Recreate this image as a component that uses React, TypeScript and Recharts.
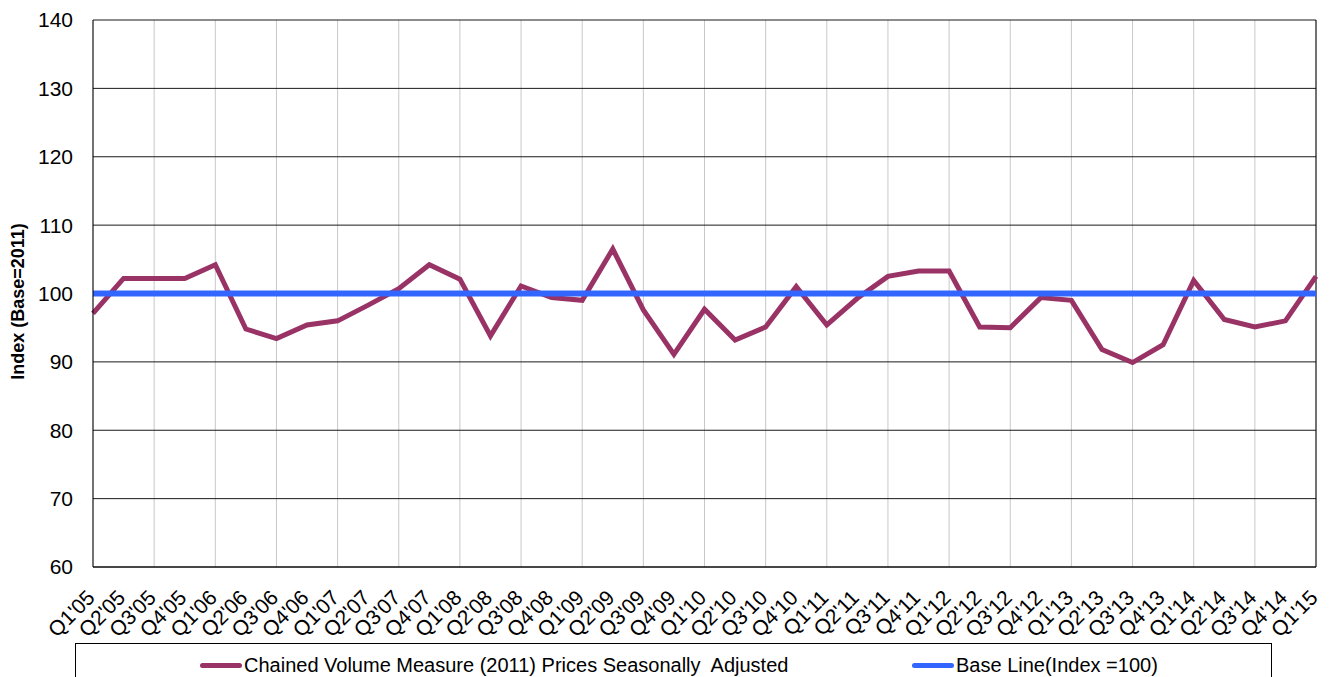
import React from "react";
import {
  LineChart,
  Line,
  XAxis,
  YAxis,
  CartesianGrid,
  Legend,
  ReferenceLine,
} from "recharts";

const quarters = [
  "Q1'05", "Q2'05", "Q3'05", "Q4'05",
  "Q1'06", "Q2'06", "Q3'06", "Q4'06",
  "Q1'07", "Q2'07", "Q3'07", "Q4'07",
  "Q1'08", "Q2'08", "Q3'08", "Q4'08",
  "Q1'09", "Q2'09", "Q3'09", "Q4'09",
  "Q1'10", "Q2'10", "Q3'10", "Q4'10",
  "Q1'11", "Q2'11", "Q3'11", "Q4'11",
  "Q1'12", "Q2'12", "Q3'12", "Q4'12",
  "Q1'13", "Q2'13", "Q3'13", "Q4'13",
  "Q1'14", "Q2'14", "Q3'14", "Q4'14",
  "Q1'15",
];

const chainedVolume = [
  97.1, 102.2, 102.2, 102.2,
  104.2, 94.8, 93.4, 95.4,
  96.0, 98.3, 100.7, 104.2,
  102.1, 93.8, 101.1, 99.4,
  99.0, 106.5, 97.6, 91.1,
  97.7, 93.2, 95.1, 101.0,
  95.4, 99.3, 102.5, 103.3,
  103.3, 95.1, 95.0, 99.4,
  99.0, 91.8, 89.9, 92.5,
  101.9, 96.2, 95.1, 96.0,
  102.5,
];

const baseLine = [
  100, 100, 100, 100, 100, 100, 100, 100, 100, 100,
  100, 100, 100, 100, 100, 100, 100, 100, 100, 100,
  100, 100, 100, 100, 100, 100, 100, 100, 100, 100,
  100, 100, 100, 100, 100, 100, 100, 100, 100, 100,
  100,
];

const yTicks = [60, 70, 80, 90, 100, 110, 120, 130, 140];

const data = quarters.map((q, i) => ({
  q,
  cvm: chainedVolume[i],
  base: baseLine[i],
}));

const FONT = "'Liberation Sans', Arial, sans-serif";

const QuarterTick = ({ x, y, payload }: any) => {
  const ax = x + 3;
  const ay = y + 32;
  return (
    <text
      x={ax}
      y={ay}
      transform={`rotate(-45, ${ax}, ${ay})`}
      textAnchor="end"
      fontSize={21}
      fontFamily={FONT}
      fill="#000"
    >
      {payload.value}
    </text>
  );
};

// grid lines every second quarter, like the original
const everyOtherQuarter = ({ xAxis, offset }: any) => {
  const pts: number[] = [];
  quarters.forEach((q, i) => {
    if (i % 2 !== 0) return;
    let px: number | undefined;
    if (xAxis && typeof xAxis.scale === "function") {
      const v = xAxis.scale(q);
      if (typeof v === "number" && !isNaN(v)) px = v;
    }
    if (px === undefined) {
      px = offset.left + (i * offset.width) / (quarters.length - 1);
    }
    pts.push(px);
  });
  return pts;
};

const LegendBox = ({ payload }: any) => {
  const items = payload || [];
  const find = (k: string) => items.find((p: any) => p.dataKey === k);
  const cvm = find("cvm");
  const base = find("base");
  const row = (entry: any, left: number) =>
    entry ? (
      <div
        style={{
          position: "absolute",
          left,
          top: 10,
          display: "flex",
          alignItems: "center",
          height: 22,
        }}
      >
        <span
          style={{
            display: "inline-block",
            width: 42,
            height: 5,
            borderRadius: 3,
            background: entry.color,
            marginRight: 2,
          }}
        />
        <span style={{ fontSize: 20, fontFamily: FONT, color: "#000", whiteSpace: "pre" }}>
          {entry.value}
        </span>
      </div>
    ) : null;
  return (
    <div
      style={{
        position: "relative",
        width: 1197,
        height: 40,
        boxSizing: "border-box",
        border: "1px solid #000",
        background: "#fff",
      }}
    >
      {row(cvm, 124)}
      {row(base, 836)}
    </div>
  );
};

export default function App() {
  return (
    <div
      style={{
        position: "absolute",
        left: 0,
        top: 0,
        width: 1333,
        height: 677,
        overflow: "hidden",
        background: "#fff",
      }}
    >
      <LineChart
        width={1333}
        height={677}
        data={data}
        margin={{ top: 20, right: 17, bottom: 0, left: 0 }}
      >
        <CartesianGrid horizontal={false} vertical stroke="#c8c8c8" verticalCoordinatesGenerator={everyOtherQuarter} />
        <CartesianGrid horizontal vertical={false} stroke="#1a1a1a" />
        <XAxis
          dataKey="q"
          interval={0}
          height={70}
          tick={<QuarterTick />}
          tickLine={false}
          tickSize={0}
          tickMargin={0}
          axisLine={{ stroke: "#000" }}
        />
        <YAxis
          domain={[60, 140]}
          ticks={yTicks}
          width={93}
          tickLine={false}
          tickSize={0}
          tickMargin={20}
          axisLine={{ stroke: "#000" }}
          tick={{ fill: "#000", fontSize: 21, fontFamily: FONT }}
          label={({ viewBox }: any) => (
            <text
              x={24}
              y={viewBox.y + viewBox.height / 2 + 8}
              transform={`rotate(-90, 24, ${viewBox.y + viewBox.height / 2 + 8})`}
              textAnchor="middle"
              fontSize={18}
              fontWeight="bold"
              fontFamily={FONT}
              fill="#000"
            >
              Index (Base=2011)
            </text>
          )}
        />
        <ReferenceLine x="Q1'15" stroke="#000" />
        <Legend
          verticalAlign="bottom"
          content={<LegendBox />}
          wrapperStyle={{ left: 75, top: 643, bottom: "auto", width: 1197, height: 40 }}
        />
        <Line
          type="linear"
          dataKey="cvm"
          name="Chained Volume Measure (2011) Prices Seasonally  Adjusted"
          stroke="#993366"
          strokeWidth={5}
          dot={false}
          activeDot={false}
          isAnimationActive={false}
        />
        <Line
          type="linear"
          dataKey="base"
          name="Base Line(Index =100)"
          stroke="#3366ff"
          strokeWidth={6}
          dot={false}
          activeDot={false}
          isAnimationActive={false}
        />
      </LineChart>
    </div>
  );
}
